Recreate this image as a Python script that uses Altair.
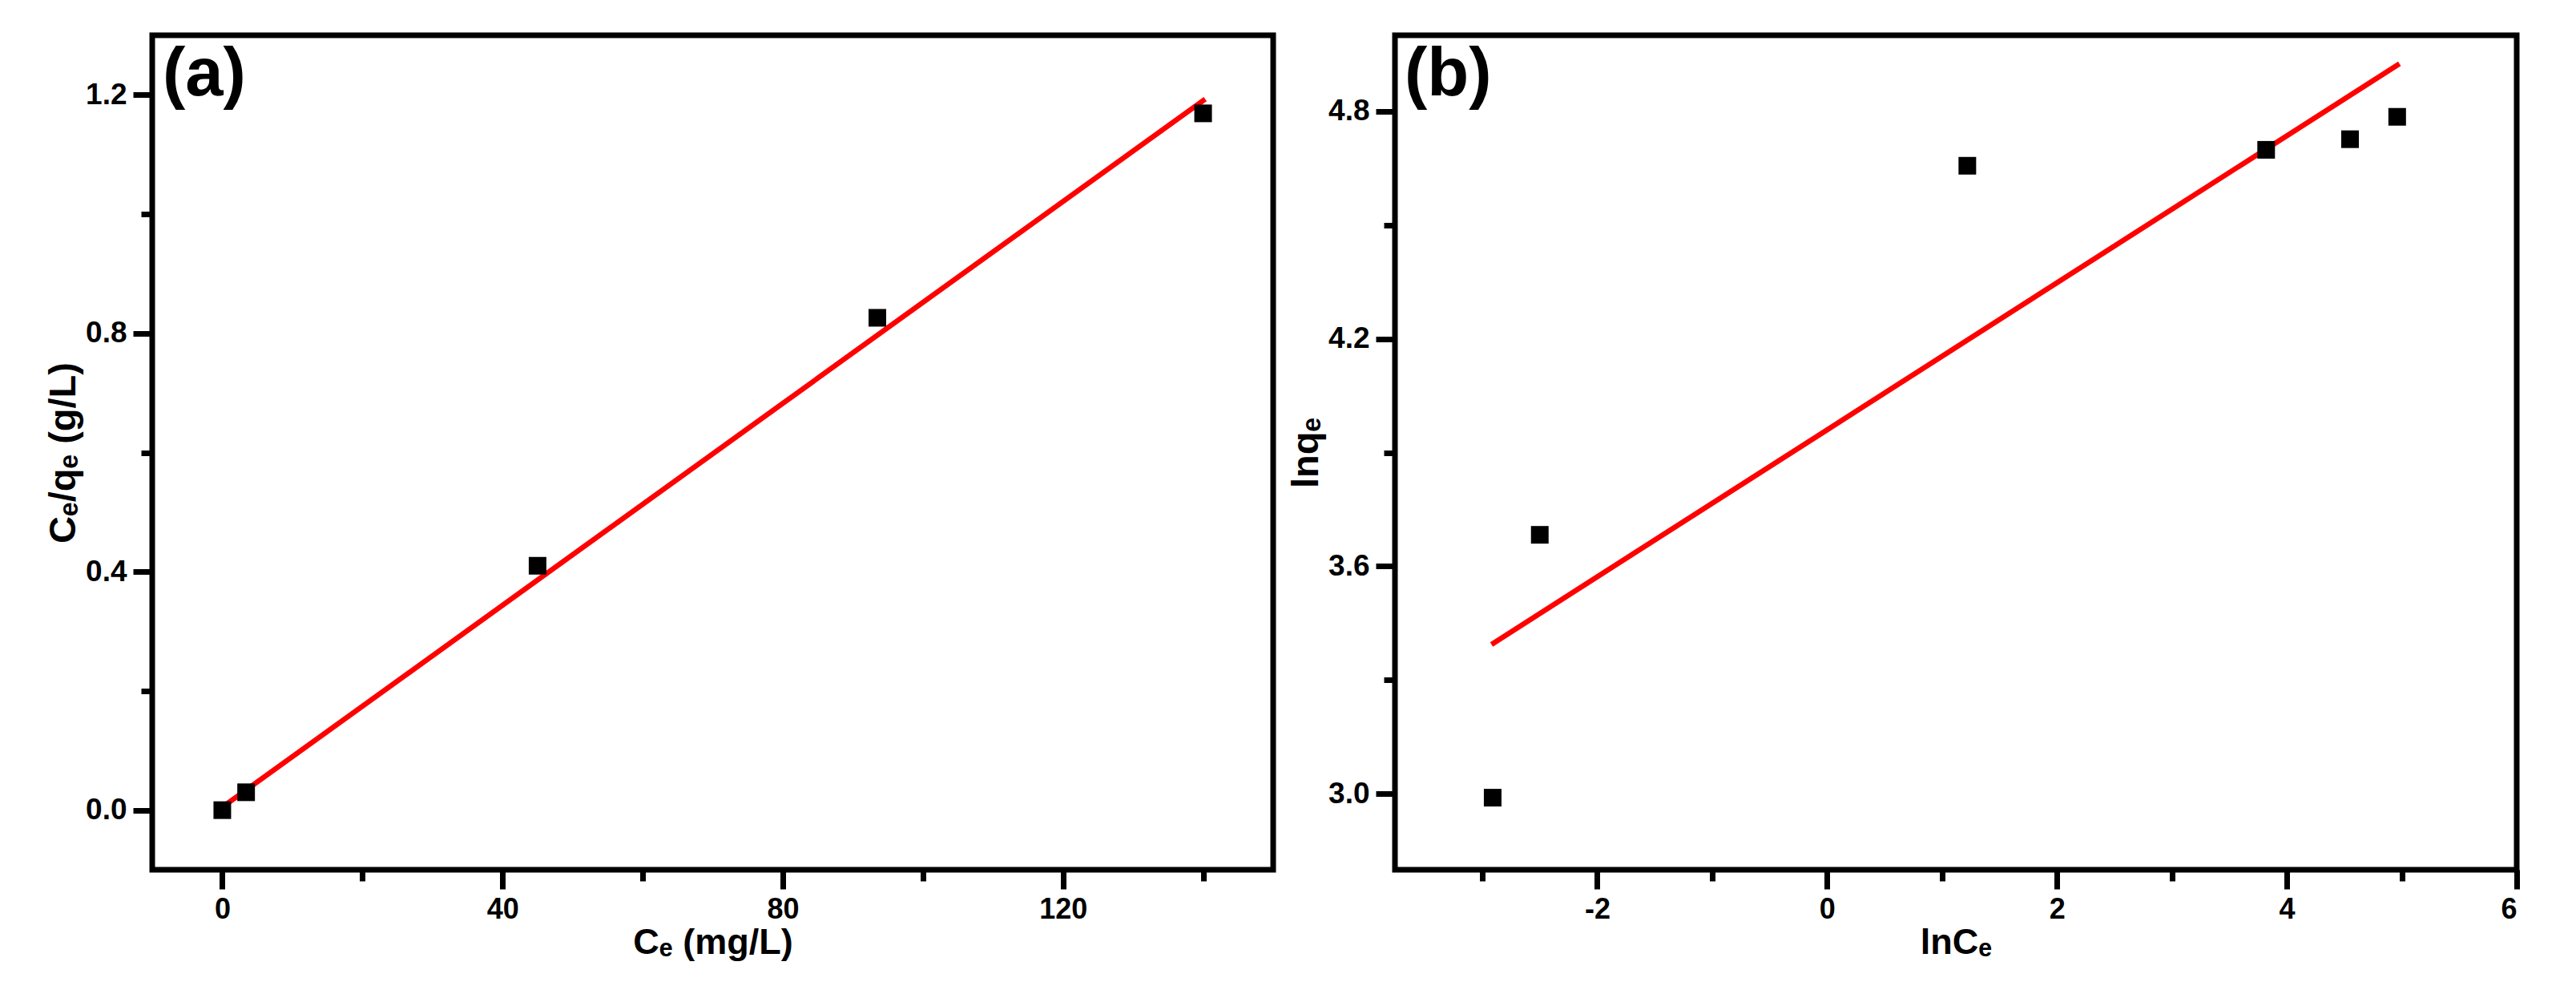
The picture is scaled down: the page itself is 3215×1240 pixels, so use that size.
import altair as alt
import pandas as pd

# ---------------- data ----------------
# Panel (a): Ce vs Ce/qe
a_ce = [0.0, 3.4, 45.0, 93.5, 140.0]
a_ceqe = [0.0, 0.030, 0.410, 0.826, 1.169]
a_fit_x = [0.0, 140.3]
a_fit_y = [0.005, 1.193]

# Panel (b): lnCe vs lnqe
b_lnce = [-2.91, -2.50, 1.22, 3.82, 4.55, 4.96]
b_lnqe = [2.99, 3.683, 4.656, 4.698, 4.726, 4.785]
b_fit_x = [-2.92, 4.98]
b_fit_y = [3.394, 4.925]

a_xticks = [0, 20, 40, 60, 80, 100, 120, 140]
a_yticks = [0.0, 0.2, 0.4, 0.6, 0.8, 1.0, 1.2]
b_xticks = [-3, -2, -1, 0, 1, 2, 3, 4, 5, 6]
b_yticks = [3.0, 3.3, 3.6, 3.9, 4.2, 4.5, 4.8]

panel_labels = ["(a)", "(b)"]

FONT = "Liberation Sans"
W, H = 1399, 1041


def make_axis(values, major_test, label_fmt, title, orient):
    common = dict(
        values=values,
        labelExpr=f"({major_test}) ? {label_fmt} : ''",
        tickSize={"condition": {"test": major_test, "value": 24}, "value": 14},
        tickWidth=7,
        tickColor="black",
        domain=False,
        grid=False,
        labelFont=FONT,
        labelFontWeight="bold",
        labelColor="black",
        labelPadding=8,
        title=title,
        titleFont=FONT,
        titleFontWeight="bold",
        titleColor="black",
    )
    if orient == "x":
        common.update(labelFontSize=36, titleFontSize=45, titleBaseline="alphabetic", titleY=104)
    else:
        common.update(labelFontSize=37, titleFontSize=47, titleAngle=270,
                      titleBaseline="alphabetic", titleX=-97)
    return alt.Axis(**common)


def panel(xs, ys, fx, fy, xdom, ydom, xaxis, yaxis, label, label_x):
    pts = pd.DataFrame({"x": xs, "y": ys})
    fit = pd.DataFrame({"x": fx, "y": fy})
    lab = pd.DataFrame({"label": [label]})
    xsc = alt.Scale(domain=xdom, nice=False, zero=False)
    ysc = alt.Scale(domain=ydom, nice=False, zero=False)
    points = alt.Chart(pts).mark_square(size=484, color="black", opacity=1).encode(
        x=alt.X("x:Q", scale=xsc, axis=xaxis),
        y=alt.Y("y:Q", scale=ysc, axis=yaxis),
    )
    line = alt.Chart(fit).mark_line(color="#ff0000", strokeWidth=6.5).encode(
        x=alt.X("x:Q", scale=xsc),
        y=alt.Y("y:Q", scale=ysc),
    )
    text = alt.Chart(lab).mark_text(
        align="left", baseline="alphabetic", fontSize=85, fontWeight="bold", font=FONT, color="black"
    ).encode(x=alt.value(label_x), y=alt.value(75), text="label:N")
    return alt.layer(line, points, text).properties(width=W, height=H)


pa = panel(
    a_ce, a_ceqe, a_fit_x, a_fit_y, [-10, 150], [-0.1, 1.3],
    make_axis(a_xticks, "datum.value % 40 === 0", "(datum.value + '')", "Cₑ (mg/L)", "x"),
    make_axis(a_yticks, "abs(datum.value/0.4 - round(datum.value/0.4)) < 0.001",
              "format(datum.value, '.1f')", "Cₑ/qₑ (g/L)", "y"),
    panel_labels[0], 13,
)

pb = panel(
    b_lnce, b_lnqe, b_fit_x, b_fit_y, [-3.76, 6], [2.8, 5.0],
    make_axis(b_xticks, "datum.value % 2 === 0", "(datum.value + '')", "lnCₑ", "x"),
    make_axis(b_yticks, "abs((datum.value-3)/0.6 - round((datum.value-3)/0.6)) < 0.001",
              "format(datum.value, '.1f')", "lnqₑ", "y"),
    panel_labels[1], 12,
).properties(width=1400)

chart = alt.hconcat(pa, pb, spacing=152, bounds="flush").properties(
    padding={"left": 43, "top": 32, "right": 5, "bottom": 5},
    background="white",
).configure_view(stroke="black", strokeWidth=7)

chart.save("out.html", embed_options={"renderer": "svg", "actions": False})
